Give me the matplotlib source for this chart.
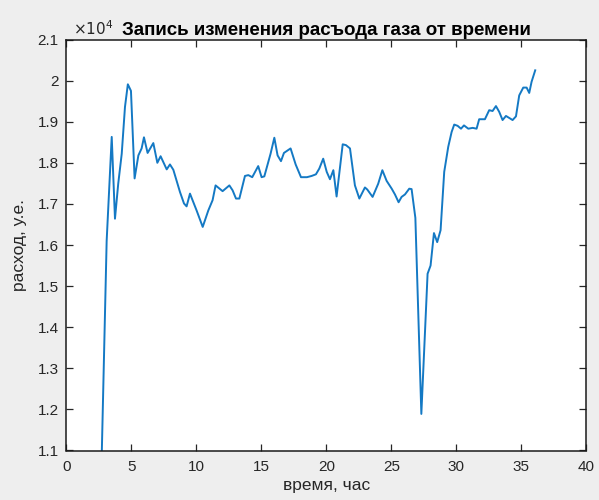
import matplotlib.pyplot as plt
from matplotlib.ticker import FuncFormatter, MultipleLocator

plt.rcParams['font.family'] = ['Liberation Sans', 'DejaVu Sans']

# time, hours
hours = [2.72, 3.09, 3.48, 3.73, 3.98, 4.25, 4.50, 4.72, 4.96, 5.24,
         5.53, 5.78, 5.96, 6.24, 6.68, 6.99, 7.24, 7.71, 7.96, 8.22,
         8.73, 9.04, 9.24, 9.50, 10.01, 10.48, 10.91, 11.24, 11.47, 12.01,
         12.53, 12.78, 13.04, 13.30, 13.73, 13.99, 14.29, 14.75, 15.01, 15.22,
         15.70, 15.99, 16.24, 16.50, 16.73, 17.24, 17.63, 18.04, 18.50, 18.86,
         19.19, 19.45, 19.75, 20.02, 20.27, 20.53, 20.78, 21.25, 21.50, 21.81,
         22.19, 22.53, 22.96, 23.14, 23.55, 23.98, 24.30, 24.63, 25.02, 25.27,
         25.55, 25.78, 26.04, 26.37, 26.55, 26.84, 27.30, 27.78, 28.01, 28.27,
         28.52, 28.78, 29.06, 29.37, 29.63, 29.83, 30.09, 30.35, 30.58, 30.91,
         31.25, 31.55, 31.75, 32.19, 32.52, 32.78, 33.04, 33.29, 33.55, 33.81,
         34.12, 34.32, 34.58, 34.83, 35.14, 35.40, 35.60, 35.78, 36.06]

# gas flow, conventional units
flow = [11000, 16100, 18630, 16640, 17490, 18220, 19360, 19910, 19750, 17620,
        18180, 18350, 18620, 18240, 18480, 18000, 18160, 17840, 17960, 17830,
        17290, 17010, 16940, 17250, 16840, 16440, 16840, 17090, 17450, 17310,
        17450, 17330, 17130, 17130, 17680, 17700, 17650, 17920, 17650, 17670,
        18220, 18610, 18180, 18040, 18240, 18350, 17960, 17650, 17650, 17680,
        17720, 17860, 18100, 17780, 17600, 17820, 17180, 18450, 18430, 18350,
        17450, 17130, 17400, 17350, 17170, 17490, 17820, 17560, 17370, 17230,
        17040, 17170, 17230, 17370, 17360, 16660, 11890, 15300, 15500, 16290,
        16070, 16360, 17780, 18390, 18750, 18930, 18900, 18830, 18910, 18830,
        18850, 18830, 19060, 19060, 19280, 19260, 19380, 19240, 19040, 19140,
        19080, 19040, 19130, 19640, 19830, 19830, 19700, 19970, 20250]

fig = plt.figure(figsize=(5.99, 5.0), dpi=100, facecolor='#eeeeee')
ax = fig.add_axes([0.111, 0.099, 0.868, 0.822])
ax.set_facecolor('white')

ax.plot(hours, flow, color='#1479c4', linewidth=1.4)

ax.set_xlim(0, 40)
ax.set_ylim(11000, 21000)
ax.xaxis.set_major_locator(MultipleLocator(5))
ax.yaxis.set_major_locator(MultipleLocator(1000))
ax.yaxis.set_major_formatter(FuncFormatter(lambda v, p: '%g' % (v / 1e4)))

ax.tick_params(direction='in', length=5, width=0.9, top=True, right=True,
               labelsize=11, labelcolor='#262626', color='#262626')
ax.tick_params(axis='x', pad=7)
ax.tick_params(axis='y', pad=5.5)
for s in ax.spines.values():
    s.set_color('#1a1a1a')
    s.set_linewidth(1.1)

ax.text(0.012, 1.004, r'$\times10^4$', transform=ax.transAxes, ha='left', va='bottom',
        fontsize=11, color='#262626')
ax.set_title('Запись изменения расъода газа от времени', fontsize=13.5,
             fontweight='bold', pad=3)
ax.set_xlabel('время, час', fontsize=12.5, color='#262626', labelpad=3)
ax.set_ylabel('расход, у.е.', fontsize=12.5, color='#262626', labelpad=8)

fig.savefig('out.png', dpi=100, facecolor=fig.get_facecolor())
